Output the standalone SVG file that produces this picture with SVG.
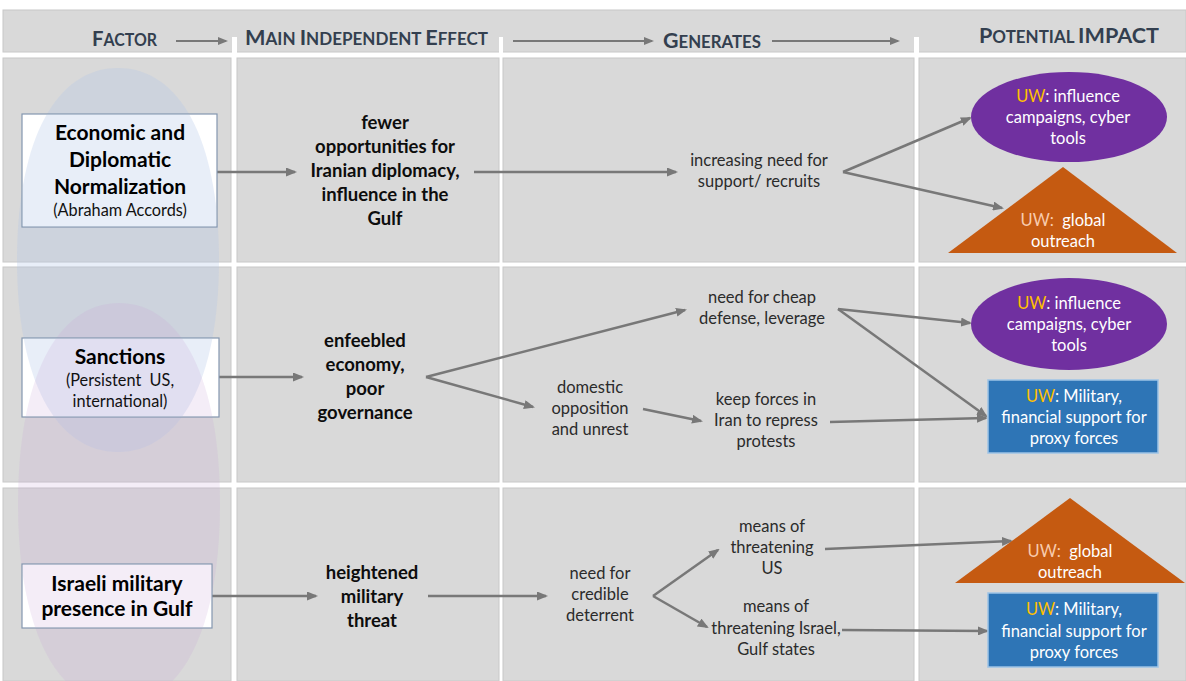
<svg xmlns="http://www.w3.org/2000/svg" width="1186" height="681" viewBox="0 0 1186 681">
<defs>
<style>
.cell{fill:#d9d9d9;stroke:#c8c8c8;stroke-width:1}
.gap{fill:#ffffff}
.hdr{font-family:Lato,"Open Sans",sans-serif;font-weight:700;fill:#333f4f}
.big{font-size:21px}
.sm{font-size:16.5px}
.con{fill:none;stroke:#787878;stroke-width:2.5;marker-end:url(#ah)}
.hcon{fill:none;stroke:#787878;stroke-width:2;marker-end:url(#ahs)}
.box{fill:#ffffff;stroke:#8497b0;stroke-width:1.2}
.fb{font-family:Lato,"Open Sans",sans-serif;font-weight:700;font-size:21px;fill:#000;text-anchor:middle}
.fr{font-family:Lato,"Open Sans",sans-serif;font-size:16.3px;fill:#111;text-anchor:middle}
.eb{font-family:Lato,"Open Sans",sans-serif;font-weight:700;font-size:18.5px;fill:#0d0d0d;text-anchor:middle}
.gr{font-family:Lato,"Open Sans",sans-serif;font-size:16.5px;fill:#2b2b2b;text-anchor:middle}
.uw{font-family:Lato,"Open Sans",sans-serif;font-size:16.5px;fill:#ffffff;text-anchor:middle}
.gold{fill:#ffc000}
.peach{fill:#f8cbad}
.purple{fill:#7030a0}
.orange{fill:#c55a11}
.blue{fill:#2e75b6;stroke:#9dc3e6;stroke-width:1.5}
.t1{fill:#b4c7e7;fill-opacity:0.3}
.t2{fill:#c9a6d6;fill-opacity:0.2}
</style>
<marker id="ah" markerUnits="userSpaceOnUse" viewBox="0 0 11 9" markerWidth="11" markerHeight="9" refX="9" refY="4.5" orient="auto"><path d="M0,0 L11,4.5 L0,9 z" fill="#787878"/></marker>
<marker id="ahs" markerUnits="userSpaceOnUse" viewBox="0 0 10 8" markerWidth="10" markerHeight="8" refX="8" refY="4" orient="auto"><path d="M0,0 L10,4 L0,8 z" fill="#787878"/></marker>
<clipPath id="cE1"><path d="M17,260 C17,141 55.4,68 118,68 C180.6,68 219,141 219,260 C219,379 180.6,452 118,452 C55.4,452 17,379 17,260 Z"/></clipPath>
<clipPath id="cE2"><path d="M18,504 C18,379.4 56.4,303 119,303 C181.6,303 220,379.4 220,504 C220,628.6 181.6,705 119,705 C56.4,705 18,628.6 18,504 Z"/></clipPath>
</defs>

<g id="background">
<rect x="0" y="0" width="1186" height="681" fill="#ffffff"/>
<rect class="cell" x="3" y="10" width="1183" height="42"/>
<rect class="gap" x="232" y="37" width="5" height="16"/>
<rect class="gap" x="499" y="37" width="4" height="16"/>
<rect class="gap" x="914" y="37" width="5" height="16"/>
<rect class="cell" x="3" y="58" width="228" height="204"/>
<rect class="cell" x="237" y="58" width="262" height="204"/>
<rect class="cell" x="503" y="58" width="411" height="204"/>
<rect class="cell" x="919" y="58" width="267" height="204"/>
<rect class="cell" x="3" y="267" width="228" height="215"/>
<rect class="cell" x="237" y="267" width="262" height="215"/>
<rect class="cell" x="503" y="267" width="411" height="215"/>
<rect class="cell" x="919" y="267" width="267" height="215"/>
<rect class="cell" x="3" y="488" width="228" height="193"/>
<rect class="cell" x="237" y="488" width="262" height="193"/>
<rect class="cell" x="503" y="488" width="411" height="193"/>
<rect class="cell" x="919" y="488" width="267" height="193"/>
</g>

<g id="highlights">
<path class="t1" d="M17,260 C17,141 55.4,68 118,68 C180.6,68 219,141 219,260 C219,379 180.6,452 118,452 C55.4,452 17,379 17,260 Z"/>
<path class="t2" d="M18,504 C18,379.4 56.4,303 119,303 C181.6,303 220,379.4 220,504 C220,628.6 181.6,705 119,705 C56.4,705 18,628.6 18,504 Z"/>
</g>

<g id="header">
<text class="hdr" x="92" y="46" textLength="65" lengthAdjust="spacingAndGlyphs"><tspan class="big">F</tspan><tspan class="sm">ACTOR</tspan></text>
<text class="hdr" x="245" y="45" textLength="243" lengthAdjust="spacingAndGlyphs"><tspan class="big">M</tspan><tspan class="sm">AIN </tspan><tspan class="big">I</tspan><tspan class="sm">NDEPENDENT </tspan><tspan class="big">E</tspan><tspan class="sm">FFECT</tspan></text>
<text class="hdr" x="663" y="48" textLength="98" lengthAdjust="spacingAndGlyphs"><tspan class="big">G</tspan><tspan class="sm">ENERATES</tspan></text>
<text class="hdr" x="979" y="43" textLength="180" lengthAdjust="spacingAndGlyphs"><tspan class="big">P</tspan><tspan class="sm">OTENTIAL </tspan><tspan class="big">IMPACT</tspan></text>
</g>

<g id="connectors">
<path class="hcon" d="M176,41 H226"/>
<path class="hcon" d="M513,41 H652"/>
<path class="hcon" d="M772,41 H898"/>
<path class="con" d="M217,172 H295"/>
<path class="con" d="M474,172 H676"/>
<path class="con" d="M843,172 L970,118"/>
<path class="con" d="M843,172 L1002,208"/>
<path class="con" d="M219,377 H302"/>
<path class="con" d="M426,377 L685,310"/>
<path class="con" d="M426,377 L533,407"/>
<path class="con" d="M643,409 L701,421"/>
<path class="con" d="M838,309 L970,323"/>
<path class="con" d="M838,309 L986,416"/>
<path class="con" d="M830,422 L986,418"/>
<path class="con" d="M212,596 H316"/>
<path class="con" d="M428,596 H546"/>
<path class="con" d="M653,596 L718,550"/>
<path class="con" d="M653,596 L707,627"/>
<path class="con" d="M825,549 L1011,541"/>
<path class="con" d="M842,630 L987,631"/>
</g>

<g id="factor-normalization">
<rect class="box" x="22" y="114" width="195" height="113"/>
<rect class="t1" x="22.6" y="114.6" width="193.8" height="111.8" clip-path="url(#cE1)"/>
<text class="fb" x="120" y="140">Economic and</text>
<text class="fb" x="120" y="167">Diplomatic</text>
<text class="fb" x="120" y="194">Normalization</text>
<text class="fr" x="120" y="216">(Abraham Accords)</text>
</g>

<g id="factor-sanctions">
<rect class="box" x="22" y="338" width="197" height="79"/>
<rect class="t1" x="22.6" y="338.6" width="195.8" height="77.8" clip-path="url(#cE1)"/>
<rect class="t2" x="22.6" y="338.6" width="195.8" height="77.8" clip-path="url(#cE2)"/>
<text class="fb" x="120" y="364">Sanctions</text>
<text class="fr" x="120" y="386" xml:space="preserve">(Persistent  US,</text>
<text class="fr" x="120" y="407">international)</text>
</g>

<g id="factor-israeli">
<rect class="box" x="22" y="564" width="190" height="64"/>
<rect class="t2" x="22.6" y="564.6" width="188.8" height="62.8" clip-path="url(#cE2)"/>
<text class="fb" x="117" y="591">Israeli military</text>
<text class="fb" x="117" y="616">presence in Gulf</text>
</g>

<g id="effect-diplomacy">
<text class="eb" x="385" y="129">fewer</text>
<text class="eb" x="385" y="153">opportunities for</text>
<text class="eb" x="385" y="177">Iranian diplomacy,</text>
<text class="eb" x="385" y="201">influence in the</text>
<text class="eb" x="385" y="225">Gulf</text>
</g>

<g id="effect-economy">
<text class="eb" x="365" y="347">enfeebled</text>
<text class="eb" x="365" y="371">economy,</text>
<text class="eb" x="365" y="395">poor</text>
<text class="eb" x="365" y="419">governance</text>
</g>

<g id="effect-threat">
<text class="eb" x="372" y="579">heightened</text>
<text class="eb" x="372" y="603">military</text>
<text class="eb" x="372" y="627">threat</text>
</g>

<g id="gen-support">
<text class="gr" x="759" y="166">increasing need for</text>
<text class="gr" x="759" y="187">support/ recruits</text>
</g>

<g id="gen-cheap-defense">
<text class="gr" x="762" y="303">need for cheap</text>
<text class="gr" x="762" y="324">defense, leverage</text>
</g>

<g id="gen-domestic">
<text class="gr" x="590" y="393">domestic</text>
<text class="gr" x="590" y="414">opposition</text>
<text class="gr" x="590" y="435">and unrest</text>
</g>

<g id="gen-keep-forces">
<text class="gr" x="766" y="405">keep forces in</text>
<text class="gr" x="766" y="426">Iran to repress</text>
<text class="gr" x="766" y="447">protests</text>
</g>

<g id="gen-deterrent">
<text class="gr" x="600" y="579">need for</text>
<text class="gr" x="600" y="600">credible</text>
<text class="gr" x="600" y="621">deterrent</text>
</g>

<g id="gen-threaten-us">
<text class="gr" x="772" y="532">means of</text>
<text class="gr" x="772" y="553">threatening</text>
<text class="gr" x="772" y="574">US</text>
</g>

<g id="gen-threaten-israel">
<text class="gr" x="776" y="612">means of</text>
<text class="gr" x="776" y="634">threatening Israel,</text>
<text class="gr" x="776" y="655">Gulf states</text>
</g>

<g id="impact-influence-1">
<ellipse class="purple" cx="1069" cy="117" rx="98" ry="45"/>
<text class="uw" x="1068" y="102"><tspan class="gold">UW</tspan>: influence</text>
<text class="uw" x="1068" y="123">campaigns, cyber</text>
<text class="uw" x="1068" y="144">tools</text>
</g>

<g id="impact-outreach-1">
<polygon class="orange" points="1063,167 1177,253 948,253"/>
<text class="uw" x="1063" y="226" xml:space="preserve"><tspan class="peach">UW:</tspan>  global</text>
<text class="uw" x="1063" y="247">outreach</text>
</g>

<g id="impact-influence-2">
<ellipse class="purple" cx="1069" cy="324" rx="98" ry="46"/>
<text class="uw" x="1069" y="309"><tspan class="gold">UW</tspan>: influence</text>
<text class="uw" x="1069" y="330">campaigns, cyber</text>
<text class="uw" x="1069" y="351">tools</text>
</g>

<g id="impact-proxy-1">
<rect class="blue" x="988" y="380" width="170" height="73"/>
<text class="uw" x="1074" y="402"><tspan class="gold">UW</tspan>: Military,</text>
<text class="uw" x="1074" y="423">financial support for</text>
<text class="uw" x="1074" y="444">proxy forces</text>
</g>

<g id="impact-outreach-2">
<polygon class="orange" points="1070,498 1185,583 955,583"/>
<text class="uw" x="1070" y="557" xml:space="preserve"><tspan class="peach">UW:</tspan>  global</text>
<text class="uw" x="1070" y="578">outreach</text>
</g>

<g id="impact-proxy-2">
<rect class="blue" x="988" y="593" width="170" height="74"/>
<text class="uw" x="1074" y="615"><tspan class="gold">UW</tspan>: Military,</text>
<text class="uw" x="1074" y="637">financial support for</text>
<text class="uw" x="1074" y="658">proxy forces</text>
</g>
</svg>
